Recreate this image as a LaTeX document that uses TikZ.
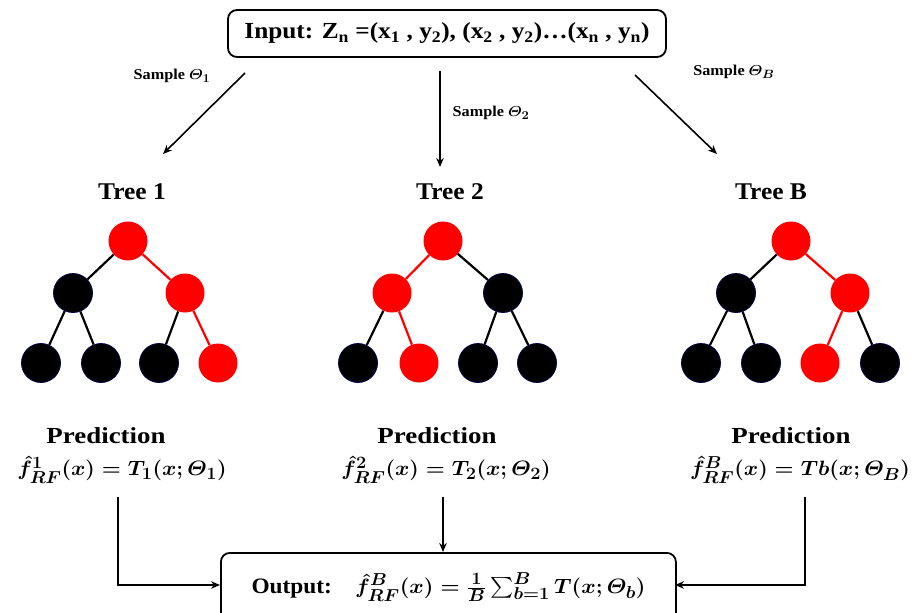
\documentclass[tikz,border=0pt]{standalone}
\usepackage{amsmath}
\usepackage{fontspec}
\setmainfont{Liberation Serif}
\DeclareMathSizes{22}{22}{17}{13}
\DeclareMathSizes{15}{15}{12}{9}
\usetikzlibrary{arrows.meta}
\newcommand{\fs}[1]{\fontsize{#1}{#1}\selectfont\bfseries\boldmath}
\newcommand{\sx}[2]{\scalebox{#1}[1]{#2}}
\begin{document}
\begin{tikzpicture}[x=1pt,y=-1pt,
  box/.style={draw,line width=1.8pt,rounded corners=9pt},
  arr/.style={-{Stealth[length=9pt,width=7.5pt]},line width=1.6pt},
  rn/.style={circle,fill=red,minimum size=39pt,inner sep=0pt},
  bn/.style={circle,fill=black,draw=black!70!blue,line width=0.8pt,minimum size=39pt,inner sep=0pt},
  re/.style={draw=red,line width=2.2pt},
  be/.style={draw=black,line width=2.2pt},
  title/.style={font=\fs{24}},
  pred/.style={font=\fs{23}},
  smp/.style={font=\fs{15}},
  form/.style={font=\fs{22}}]
\useasboundingbox (0,0) rectangle (924,613);
% input
\node[box,minimum width=438pt,minimum height=47pt,font=\fs{23}] (in) at (447,33.5)
 {\sx{1.1}{Input: Z\textsubscript{n} =(x\textsubscript{1} , y\textsubscript{2}), (x\textsubscript{2} , y\textsubscript{2})\ldots(x\textsubscript{n} , y\textsubscript{n})}};
\coordinate (a1s) at (245,73); \coordinate (a1e) at (163,154);
\coordinate (a2s) at (440,71); \coordinate (a2e) at (440,167);
\coordinate (a3s) at (635,75); \coordinate (a3e) at (717,154);
\draw[arr] (a1s) -- (a1e);
\draw[arr] (a2s) -- (a2e);
\draw[arr] (a3s) -- (a3e);
\node[smp] (s1) at (172,76) {\sx{1.08}{Sample $\varTheta_1$}};
\node[smp] (s2) at (491,113) {\sx{1.08}{Sample $\varTheta_2$}};
\node[smp] (s3) at (734,72) {\sx{1.08}{Sample $\varTheta_B$}};
% titles
\node[title] (t1) at (132,192) {\sx{1.06}{Tree 1}};
\node[title] (t2) at (450,192) {\sx{1.06}{Tree 2}};
\node[title] (t3) at (771,192) {\sx{1.06}{Tree B}};
% tree 1
\node[rn] (r1) at (128,241) {};
\node[bn] (l1) at (73,293) {};
\node[rn] (m1) at (185,293) {};
\node[bn] (p1) at (41,363) {};
\node[bn] (q1) at (101,363) {};
\node[bn] (u1) at (159,363) {};
\node[rn] (v1) at (218,363) {};
% tree 2
\node[rn] (r2) at (443,241) {};
\node[rn] (l2) at (392,293) {};
\node[bn] (m2) at (503,293) {};
\node[bn] (p2) at (358,363) {};
\node[rn] (q2) at (419,363) {};
\node[bn] (u2) at (478,363) {};
\node[bn] (v2) at (537,363) {};
% tree 3
\node[rn] (r3) at (791,241) {};
\node[bn] (l3) at (736,293) {};
\node[rn] (m3) at (850,293) {};
\node[bn] (p3) at (701,363) {};
\node[bn] (q3) at (761,363) {};
\node[rn] (u3) at (820,363) {};
\node[bn] (v3) at (880,363) {};
% edges
\path[be] (r1) -- (l1); \path[re] (r1) -- (m1);
\path[be] (l1) -- (p1); \path[be] (l1) -- (q1);
\path[be] (m1) -- (u1); \path[re] (m1) -- (v1);
\path[re] (r2) -- (l2); \path[be] (r2) -- (m2);
\path[be] (l2) -- (p2); \path[re] (l2) -- (q2);
\path[be] (m2) -- (u2); \path[be] (m2) -- (v2);
\path[be] (r3) -- (l3); \path[re] (r3) -- (m3);
\path[be] (l3) -- (p3); \path[be] (l3) -- (q3);
\path[re] (m3) -- (u3); \path[be] (m3) -- (v3);
% predictions
\node[pred] (pr1) at (106,436) {\sx{1.17}{Prediction}};
\node[pred] (pr2) at (437,436) {\sx{1.17}{Prediction}};
\node[pred] (pr3) at (791,436) {\sx{1.17}{Prediction}};
\node[form] (f1) at (122,470) {\sx{1.05}{$\hat{f}^{1}_{RF}(x)=T_1(x;\varTheta_1)$}};
\node[form] (f2) at (446,470) {\sx{1.05}{$\hat{f}^{2}_{RF}(x)=T_2(x;\varTheta_2)$}};
\node[form] (f3) at (800,470) {\sx{1.05}{$\hat{f}^{B}_{RF}(x)=Tb(x;\varTheta_B)$}};
% output
\node[box,minimum width=455pt,minimum height=74pt,anchor=north west] (out) at (220,552) {};
\node[form,anchor=west] (ot) at (248,587) {\sx{1.06}{Output:\quad $\hat{f}^{B}_{RF}(x)=\frac{1}{B}\sum_{b=1}^{B}T(x;\varTheta_b)$}};
\coordinate (c1) at (118,497); \coordinate (c2) at (443,497); \coordinate (c3) at (805,497);
\coordinate (o1) at (220,585); \coordinate (o3) at (675,585); \coordinate (o2) at (443,552);
\draw[arr] (c1) |- (o1);
\draw[arr] (c2) -- (o2);
\draw[arr] (c3) |- (o3);
\end{tikzpicture}
\end{document}
